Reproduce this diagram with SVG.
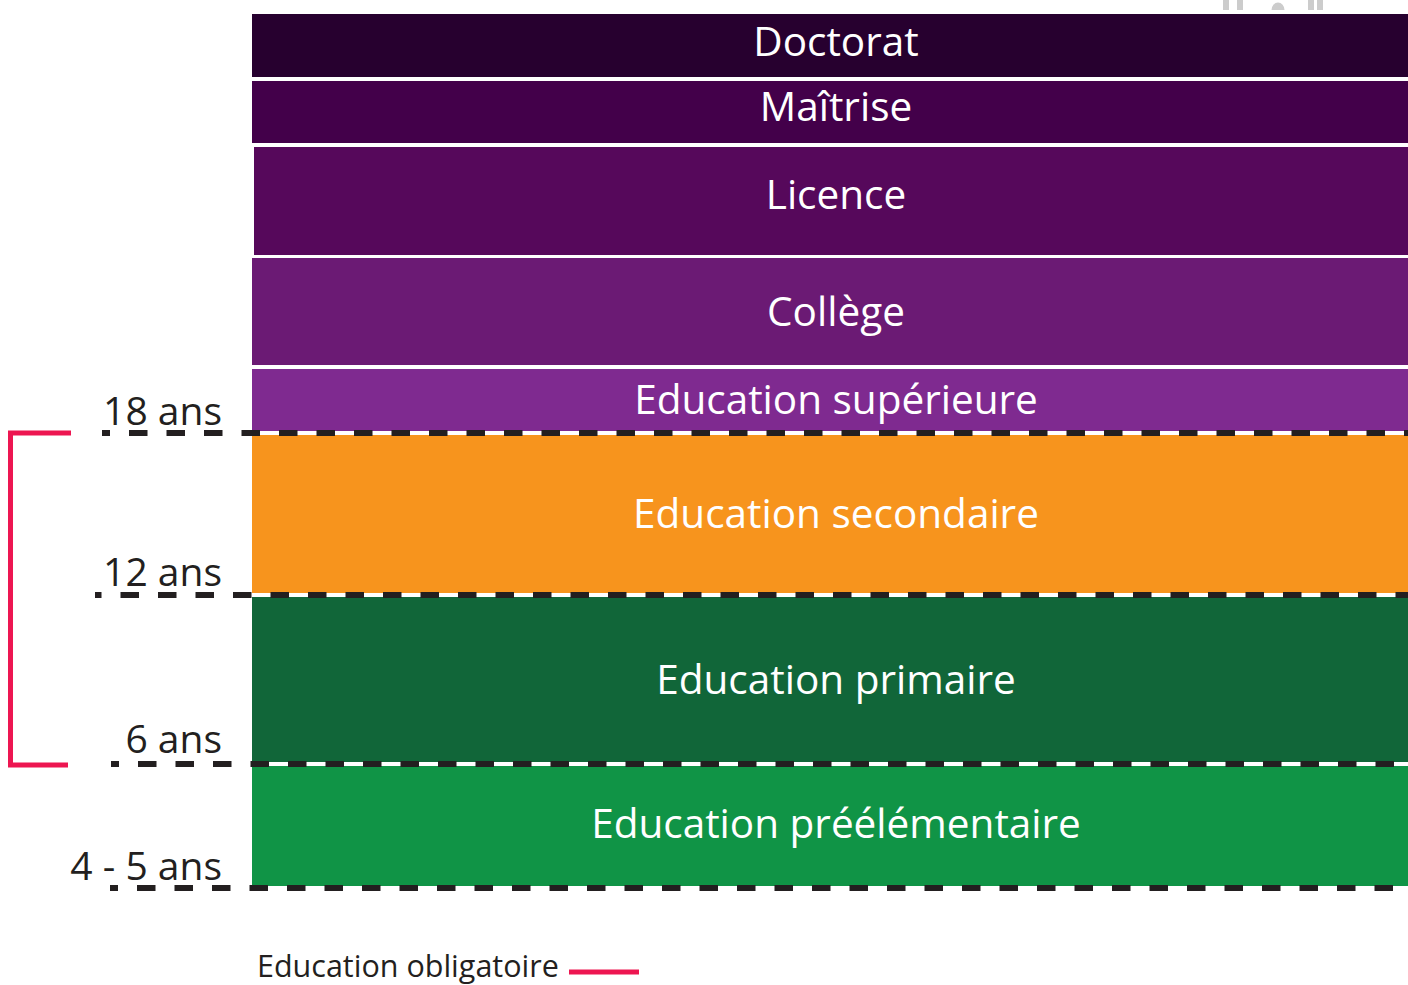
<svg xmlns="http://www.w3.org/2000/svg" width="1408" height="985" viewBox="0 0 1408 985">
  <defs>
    <style>
      .band-label { font-family: "Open Sans", "Noto Sans", sans-serif; font-size: 40.5px; fill: #ffffff; text-anchor: middle; }
      .age { font-family: "Open Sans", "Noto Sans", sans-serif; font-size: 39px; fill: #231f20; text-anchor: end; }
      .legend { font-family: "Open Sans", "Noto Sans", sans-serif; font-size: 30.5px; fill: #231f20; }
      .sep-white { stroke: #ffffff; stroke-width: 4; }
      .sep-dash { stroke: #231f20; stroke-width: 6; stroke-dasharray: 18.5 19; fill: none; }
      .bracket { stroke: #ed1651; stroke-width: 5; fill: none; }
    </style>
  </defs>
  <rect width="1408" height="985" fill="#ffffff"/>

  <!-- partially visible grey marks along the top edge -->
  <g id="top-marks" fill="#cccccc">
    <rect x="1223" y="0" width="6" height="10"/>
    <rect x="1237" y="0" width="6" height="10"/>
    <path d="M1271.5 10 A6.5 7.5 0 0 1 1284.5 10 Z"/>
    <rect x="1308" y="0" width="6" height="10"/>
    <rect x="1317" y="0" width="6" height="10"/>
  </g>

  <g id="doctorat">
    <rect x="252" y="14" width="1156" height="63" fill="#27002f"/>
    <text class="band-label" x="836" y="56">Doctorat</text>
  </g>
  <g id="maitrise">
    <rect x="252" y="81" width="1156" height="62" fill="#43004a"/>
    <text class="band-label" x="836" y="121">Maîtrise</text>
  </g>
  <g id="licence">
    <rect x="254" y="147" width="1154" height="108" fill="#56085b"/>
    <text class="band-label" x="836" y="209">Licence</text>
  </g>
  <g id="college">
    <rect x="252" y="258" width="1156" height="107" fill="#6b1a74"/>
    <text class="band-label" x="836" y="326">Collège</text>
  </g>
  <g id="education-superieure">
    <rect x="252" y="369" width="1156" height="63" fill="#7f2a90"/>
    <text class="band-label" x="836" y="414">Education supérieure</text>
  </g>
  <g id="education-secondaire">
    <rect x="252" y="435" width="1156" height="159" fill="#f7941d"/>
    <text class="band-label" x="836" y="528">Education secondaire</text>
  </g>
  <g id="education-primaire">
    <rect x="252" y="597" width="1156" height="166" fill="#116639"/>
    <text class="band-label" x="836" y="694">Education primaire</text>
  </g>
  <g id="education-preelementaire">
    <rect x="252" y="766" width="1156" height="120" fill="#109446"/>
    <text class="band-label" x="836" y="838">Education préélémentaire</text>
  </g>

  <!-- age thresholds: white rule under a dashed line -->
  <g id="connectors">
    <line class="sep-white" x1="252" y1="433" x2="1408" y2="433"/>
    <line class="sep-white" x1="252" y1="595" x2="1408" y2="595"/>
    <line class="sep-white" x1="252" y1="764" x2="1408" y2="764"/>
    <line class="sep-dash" x1="102" y1="433" x2="1408" y2="433" stroke-dashoffset="10.5"/>
    <line class="sep-dash" x1="95" y1="595" x2="1408" y2="595" stroke-dashoffset="12"/>
    <line class="sep-dash" x1="111" y1="764" x2="1408" y2="764" stroke-dashoffset="10.5"/>
    <line class="sep-dash" x1="110" y1="888" x2="1408" y2="888" stroke-dashoffset="10.5"/>
    <!-- compulsory schooling bracket -->
    <path class="bracket" d="M71 433 H10.5 V765 H68"/>
  </g>

  <g id="age-labels">
    <text class="age" x="222" y="425">18 ans</text>
    <text class="age" x="222" y="586">12 ans</text>
    <text class="age" x="222" y="753">6 ans</text>
    <text class="age" x="222" y="880">4 - 5 ans</text>
  </g>

  <g id="legend">
    <text class="legend" x="257" y="977">Education obligatoire</text>
    <line x1="569" y1="972" x2="639" y2="972" stroke="#ed1651" stroke-width="5"/>
  </g>
</svg>
